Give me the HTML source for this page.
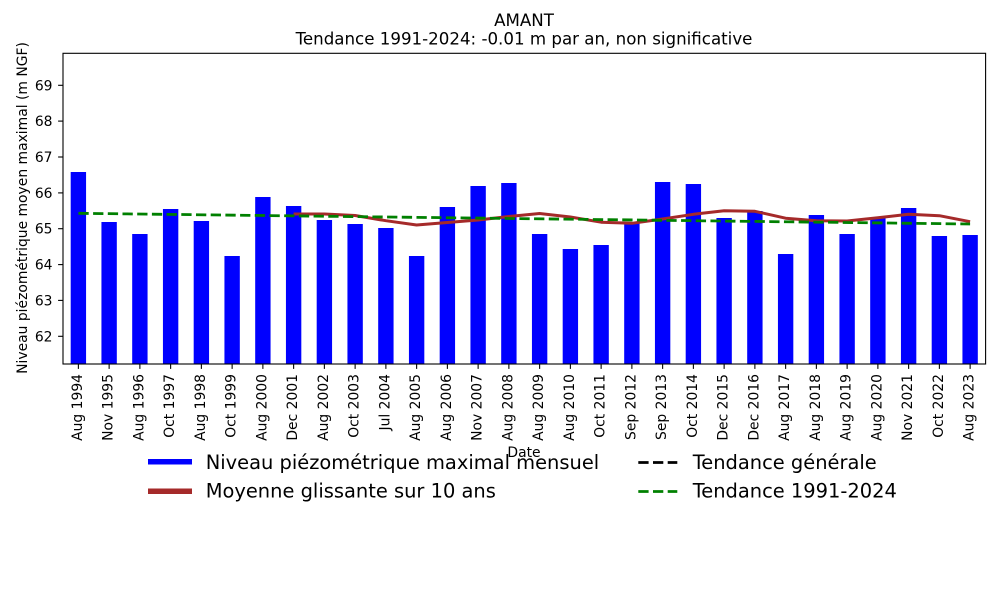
<!DOCTYPE html>
<html>
<head>
<meta charset="utf-8">
<style>
html,body{margin:0;padding:0;background:#fff;}
svg{display:block;}
text{font-family:"DejaVu Sans","Liberation Sans",sans-serif;fill:#000;}
</style>
</head>
<body>
<svg width="1000" height="600" viewBox="0 0 1000 600" xmlns="http://www.w3.org/2000/svg">
<rect x="0" y="0" width="1000" height="600" fill="#fff"/>

<!-- Title -->
<text x="524" y="26" font-size="16.67" text-anchor="middle">AMANT</text>
<text x="524" y="44.3" font-size="16.67" text-anchor="middle">Tendance 1991-2024: -0.01 m par an, non significative</text>

<!-- Bars -->
<g fill="#0000ff">
<rect x="70.69" y="172" width="15.375" height="192"/>
<rect x="101.44" y="222" width="15.375" height="142"/>
<rect x="132.19" y="234" width="15.375" height="130"/>
<rect x="162.94" y="209" width="15.375" height="155"/>
<rect x="193.69" y="221" width="15.375" height="143"/>
<rect x="224.44" y="256" width="15.375" height="108"/>
<rect x="255.19" y="197" width="15.375" height="167"/>
<rect x="285.94" y="206" width="15.375" height="158"/>
<rect x="316.69" y="220" width="15.375" height="144"/>
<rect x="347.44" y="224" width="15.375" height="140"/>
<rect x="378.19" y="228" width="15.375" height="136"/>
<rect x="408.94" y="256" width="15.375" height="108"/>
<rect x="439.69" y="207" width="15.375" height="157"/>
<rect x="470.44" y="186" width="15.375" height="178"/>
<rect x="501.19" y="183" width="15.375" height="181"/>
<rect x="531.94" y="234" width="15.375" height="130"/>
<rect x="562.69" y="249" width="15.375" height="115"/>
<rect x="593.44" y="245" width="15.375" height="119"/>
<rect x="624.19" y="223" width="15.375" height="141"/>
<rect x="654.94" y="182" width="15.375" height="182"/>
<rect x="685.69" y="184" width="15.375" height="180"/>
<rect x="716.44" y="218" width="15.375" height="146"/>
<rect x="747.19" y="211" width="15.375" height="153"/>
<rect x="777.94" y="254" width="15.375" height="110"/>
<rect x="808.69" y="215" width="15.375" height="149"/>
<rect x="839.44" y="234" width="15.375" height="130"/>
<rect x="870.19" y="218" width="15.375" height="146"/>
<rect x="900.94" y="208" width="15.375" height="156"/>
<rect x="931.69" y="236" width="15.375" height="128"/>
<rect x="962.44" y="235" width="15.375" height="129"/>
</g>

<!-- Moving average -->
<polyline fill="none" stroke="#a52a2a" stroke-width="3" stroke-linejoin="round" stroke-linecap="butt"
points="293.6,214 324.4,214 355.1,215.5 385.9,220.7 416.6,225 447.4,222.5 478.1,220 508.9,216.5 539.6,213.5 570.4,217 601.1,222.2 631.9,223.3 662.6,219 693.4,214.3 724.1,210.7 754.9,211.3 785.6,218.2 816.4,220.7 847.1,221 877.9,217.7 908.6,214.3 939.4,215.7 970.1,221.7"/>

<!-- Trend 1991-2024 -->
<line x1="78.4" y1="213.3" x2="970.1" y2="224" stroke="#008000" stroke-width="2.78" stroke-dasharray="10.3 4.4"/>

<!-- Axes frame -->
<rect x="63" y="53.3" width="922.6" height="310.7" fill="none" stroke="#000" stroke-width="1.1"/>

<!-- Y ticks -->
<g stroke="#000" stroke-width="1.1">
<line x1="58.1" y1="336.3" x2="63" y2="336.3"/>
<line x1="58.1" y1="300.4" x2="63" y2="300.4"/>
<line x1="58.1" y1="264.6" x2="63" y2="264.6"/>
<line x1="58.1" y1="228.7" x2="63" y2="228.7"/>
<line x1="58.1" y1="192.9" x2="63" y2="192.9"/>
<line x1="58.1" y1="157.0" x2="63" y2="157.0"/>
<line x1="58.1" y1="121.1" x2="63" y2="121.1"/>
<line x1="58.1" y1="85.3" x2="63" y2="85.3"/>
</g>
<g font-size="13.9" text-anchor="end">
<text x="52.5" y="341.3">62</text>
<text x="52.5" y="305.4">63</text>
<text x="52.5" y="269.6">64</text>
<text x="52.5" y="233.7">65</text>
<text x="52.5" y="197.9">66</text>
<text x="52.5" y="162.0">67</text>
<text x="52.5" y="126.1">68</text>
<text x="52.5" y="90.3">69</text>
</g>

<!-- Y label -->
<text transform="translate(27,208) rotate(-90)" font-size="13.9" text-anchor="middle">Niveau piézométrique moyen maximal (m NGF)</text>

<!-- X ticks -->
<g stroke="#000" stroke-width="1.1">
<line x1="78.38" y1="364" x2="78.38" y2="368.9"/>
<line x1="109.13" y1="364" x2="109.13" y2="368.9"/>
<line x1="139.88" y1="364" x2="139.88" y2="368.9"/>
<line x1="170.63" y1="364" x2="170.63" y2="368.9"/>
<line x1="201.38" y1="364" x2="201.38" y2="368.9"/>
<line x1="232.13" y1="364" x2="232.13" y2="368.9"/>
<line x1="262.88" y1="364" x2="262.88" y2="368.9"/>
<line x1="293.63" y1="364" x2="293.63" y2="368.9"/>
<line x1="324.38" y1="364" x2="324.38" y2="368.9"/>
<line x1="355.13" y1="364" x2="355.13" y2="368.9"/>
<line x1="385.88" y1="364" x2="385.88" y2="368.9"/>
<line x1="416.63" y1="364" x2="416.63" y2="368.9"/>
<line x1="447.38" y1="364" x2="447.38" y2="368.9"/>
<line x1="478.13" y1="364" x2="478.13" y2="368.9"/>
<line x1="508.88" y1="364" x2="508.88" y2="368.9"/>
<line x1="539.63" y1="364" x2="539.63" y2="368.9"/>
<line x1="570.38" y1="364" x2="570.38" y2="368.9"/>
<line x1="601.13" y1="364" x2="601.13" y2="368.9"/>
<line x1="631.88" y1="364" x2="631.88" y2="368.9"/>
<line x1="662.63" y1="364" x2="662.63" y2="368.9"/>
<line x1="693.38" y1="364" x2="693.38" y2="368.9"/>
<line x1="724.13" y1="364" x2="724.13" y2="368.9"/>
<line x1="754.88" y1="364" x2="754.88" y2="368.9"/>
<line x1="785.63" y1="364" x2="785.63" y2="368.9"/>
<line x1="816.38" y1="364" x2="816.38" y2="368.9"/>
<line x1="847.13" y1="364" x2="847.13" y2="368.9"/>
<line x1="877.88" y1="364" x2="877.88" y2="368.9"/>
<line x1="908.63" y1="364" x2="908.63" y2="368.9"/>
<line x1="939.38" y1="364" x2="939.38" y2="368.9"/>
<line x1="970.13" y1="364" x2="970.13" y2="368.9"/>
</g>
<g font-size="13.9" text-anchor="end">
<text transform="translate(81.9,374) rotate(-90)">Aug 1994</text>
<text transform="translate(112.6,374) rotate(-90)">Nov 1995</text>
<text transform="translate(143.4,374) rotate(-90)">Aug 1996</text>
<text transform="translate(174.1,374) rotate(-90)">Oct 1997</text>
<text transform="translate(204.9,374) rotate(-90)">Aug 1998</text>
<text transform="translate(235.6,374) rotate(-90)">Oct 1999</text>
<text transform="translate(266.4,374) rotate(-90)">Aug 2000</text>
<text transform="translate(297.1,374) rotate(-90)">Dec 2001</text>
<text transform="translate(327.9,374) rotate(-90)">Aug 2002</text>
<text transform="translate(358.6,374) rotate(-90)">Oct 2003</text>
<text transform="translate(389.4,374) rotate(-90)">Jul 2004</text>
<text transform="translate(420.1,374) rotate(-90)">Aug 2005</text>
<text transform="translate(450.9,374) rotate(-90)">Aug 2006</text>
<text transform="translate(481.6,374) rotate(-90)">Nov 2007</text>
<text transform="translate(512.4,374) rotate(-90)">Aug 2008</text>
<text transform="translate(543.1,374) rotate(-90)">Aug 2009</text>
<text transform="translate(573.9,374) rotate(-90)">Aug 2010</text>
<text transform="translate(604.6,374) rotate(-90)">Oct 2011</text>
<text transform="translate(635.4,374) rotate(-90)">Sep 2012</text>
<text transform="translate(666.1,374) rotate(-90)">Sep 2013</text>
<text transform="translate(696.9,374) rotate(-90)">Oct 2014</text>
<text transform="translate(727.6,374) rotate(-90)">Dec 2015</text>
<text transform="translate(758.4,374) rotate(-90)">Dec 2016</text>
<text transform="translate(789.1,374) rotate(-90)">Aug 2017</text>
<text transform="translate(819.9,374) rotate(-90)">Aug 2018</text>
<text transform="translate(850.6,374) rotate(-90)">Aug 2019</text>
<text transform="translate(881.4,374) rotate(-90)">Aug 2020</text>
<text transform="translate(912.1,374) rotate(-90)">Nov 2021</text>
<text transform="translate(942.9,374) rotate(-90)">Oct 2022</text>
<text transform="translate(973.6,374) rotate(-90)">Aug 2023</text>
</g>

<!-- X label -->
<text x="524" y="457" font-size="13.9" text-anchor="middle">Date</text>

<!-- Legend -->
<rect x="148" y="459" width="44" height="5.5" fill="#0000ff"/>
<rect x="148" y="488.5" width="44" height="5.5" fill="#a52a2a"/>
<line x1="638.3" y1="462.5" x2="677.3" y2="462.5" stroke="#000" stroke-width="2.78" stroke-dasharray="10.3 4.4"/>
<line x1="638.3" y1="491.5" x2="677.3" y2="491.5" stroke="#008000" stroke-width="2.78" stroke-dasharray="10.3 4.4"/>
<g font-size="19.44">
<text x="205.7" y="469">Niveau piézométrique maximal mensuel</text>
<text x="205.7" y="497.5">Moyenne glissante sur 10 ans</text>
<text x="692.7" y="469">Tendance générale</text>
<text x="692.7" y="497.5">Tendance 1991-2024</text>
</g>
</svg>
</body>
</html>
